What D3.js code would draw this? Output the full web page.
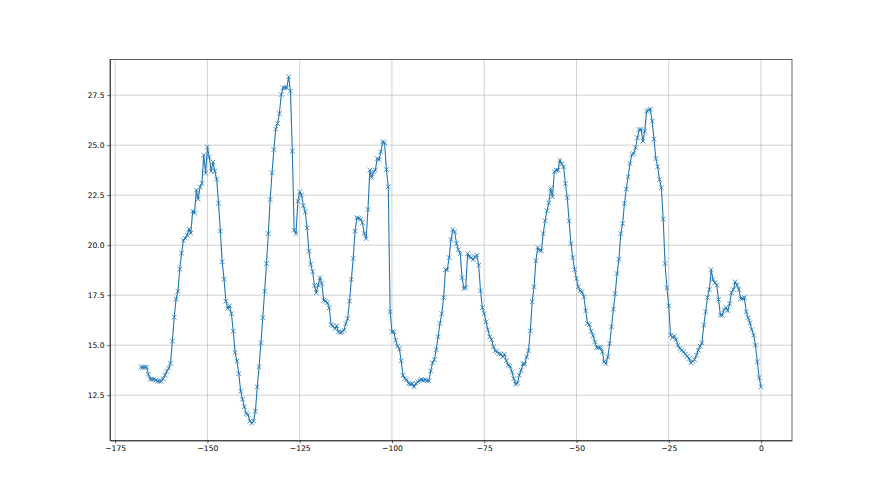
<!DOCTYPE html>
<html>
<head>
<meta charset="utf-8">
<script src="https://cdn.jsdelivr.net/npm/d3@7"></script>
<style>
  body { margin: 0; background: #fff; }
  svg { display: block; }
  .axis text { font-family: "DejaVu Sans", sans-serif; font-size: 7.6px; fill: #000; }
  .axis path, .axis line { stroke: #000; stroke-width: 0.6; }
  .grid line { stroke: #b0b0b0; stroke-width: 0.6; }
</style>
</head>
<body>
<svg width="880" height="495"></svg>
<script>
// readings, every half hour from -168 h to 0 h
const firstHour = -168;
const stepHour = 0.5;

const tempsA = [13.9, 13.9, 13.9, 13.9, 13.55, 13.3, 13.3, 13.3, 13.25, 13.2,
  13.2, 13.2, 13.33, 13.5, 13.7, 13.85, 14.1, 15.2, 16.4, 17.3,
  17.7, 18.8, 19.6, 20.25, 20.35, 20.5, 20.8, 20.6, 21.7, 21.6,
  22.75, 22.3, 22.9, 23.1, 24.5, 23.6];
const tempsB = [24.9, 24.4, 23.7, 24.15, 23.7, 23.3, 22.1, 20.7, 19.17, 18.3,
  17.2, 16.83, 16.97, 16.58, 15.7, 14.63, 14.2, 13.58, 12.7, 12.3,
  11.92, 11.58, 11.53, 11.2, 11.1, 11.2, 11.7, 12.92, 13.92, 15.12,
  16.38, 17.7, 19.08, 20.58, 22.28, 23.62, 24.78, 25.8, 26.08, 26.58,
  27.53, 27.87, 27.87, 27.87, 28.42];
const tempsC = [27.7, 24.7, 20.75, 20.58, 22.2, 22.67, 22.5, 21.97, 21.67, 20.87,
  19.7, 19.05, 18.67, 17.97, 17.62, 18.0, 18.38, 18.08, 17.25, 17.2,
  17.13, 16.87, 16.03, 15.97, 15.83, 15.97, 15.67, 15.63, 15.67, 15.75,
  16.08, 16.33, 17.2, 18.28, 19.33, 20.7, 21.37];
const tempsD = [21.35, 21.3, 21.12, 20.58, 20.33, 21.78, 23.75, 23.38, 23.67, 23.75,
  24.33, 24.28, 24.67, 25.17, 25.12, 23.78, 22.92, 16.67, 15.67, 15.67,
  15.25, 14.95, 14.83, 14.22, 13.5, 13.33, 13.28, 13.08, 13.05, 13.08,
  12.92, 13.08, 13.17, 13.25, 13.28, 13.25, 13.28, 13.22, 13.22, 13.72];
const tempsE = [14.12, 14.28, 14.78, 15.42, 16.08, 16.58, 17.38, 18.78, 18.78, 19.38,
  20.28, 20.78, 20.67, 20.08, 19.78, 19.58, 18.38, 17.83, 17.88, 19.58,
  19.42, 19.38, 19.28, 19.42, 19.5, 19.0, 17.72, 16.88, 16.58, 16.17,
  15.78, 15.42, 15.28, 14.92, 14.72, 14.67, 14.58, 14.55, 14.42, 14.55,
  14.22, 14.0, 13.95, 13.67, 13.33, 13.05, 13.1];
const tempsF = [13.5, 13.75, 14.08, 14.05, 14.42, 14.72, 15.72, 17.17, 17.92, 19.22,
  19.88, 19.75, 19.72, 20.58, 21.22, 21.72, 22.12, 22.83, 22.42, 23.67,
  23.75, 23.75, 24.25, 24.05, 23.92, 23.08, 22.38, 21.2, 20.08, 19.38,
  18.78, 18.33, 17.92, 17.72, 17.67, 17.42, 16.72, 16.08, 16.03, 15.7];
const tempsG = [15.47, 15.17, 14.88, 14.88, 14.88, 14.67, 14.17, 14.08, 14.42, 15.08,
  15.92, 16.8, 17.58, 18.58, 19.3, 20.58, 21.08, 22.08, 22.8, 23.42,
  24.08, 24.53, 24.58, 24.87, 25.37, 25.78, 25.78, 25.2, 25.7, 26.7,
  26.75, 26.8, 26.2, 25.3, 24.33, 23.92, 23.28, 22.87, 21.3, 19.08,
  17.87, 16.97];
const tempsH = [15.5, 15.38, 15.45, 15.28, 15.0, 14.83, 14.75, 14.67, 14.55, 14.45,
  14.33, 14.12, 14.2, 14.28, 14.5, 14.75, 14.95, 15.12, 16.0, 16.67,
  17.38, 17.78, 18.78, 18.28, 18.12, 18.0, 17.28, 16.5, 16.5, 16.78,
  16.88, 16.72, 17.08, 17.62, 17.78, 18.17, 18.0, 17.78, 17.33, 17.33,
  17.38, 16.67, 16.38, 16.12, 15.78, 15.5, 15.0, 14.17, 13.38, 12.92];

const xTicks = [-175, -150, -125, -100, -75, -50, -25, 0];
const yTicks = [12.5, 15.0, 17.5, 20.0, 22.5, 25.0, 27.5];

const temps = [].concat(tempsA, tempsB, tempsC, tempsD, tempsE, tempsF, tempsG, tempsH);
const data = temps.map((v, i) => ({ hour: firstHour + i * stepHour, value: v }));

const svg = d3.select("svg"),
  margin = { top: 59.4, right: 88, bottom: 54.45, left: 110 },
  width = +svg.attr("width") - margin.left - margin.right,
  height = +svg.attr("height") - margin.top - margin.bottom;

// matplotlib style 5% padding around the data
const xExt = d3.extent(data, d => d.hour);
const yExt = d3.extent(data, d => d.value);
const xPad = (xExt[1] - xExt[0]) * 0.05;
const yPad = (yExt[1] - yExt[0]) * 0.05;

const x = d3.scaleLinear().domain([xExt[0] - xPad, xExt[1] + xPad]).range([0, width]);
const y = d3.scaleLinear().domain([yExt[0] - yPad, yExt[1] + yPad]).range([height, 0]);

const g = svg.append("g")
  .attr("transform", "translate(" + margin.left + "," + margin.top + ")");

// grid
g.append("g").attr("class", "grid")
  .selectAll("line").data(xTicks).enter().append("line")
  .attr("x1", d => x(d)).attr("x2", d => x(d))
  .attr("y1", 0).attr("y2", height);
g.append("g").attr("class", "grid")
  .selectAll("line").data(yTicks).enter().append("line")
  .attr("y1", d => y(d)).attr("y2", d => y(d))
  .attr("x1", 0).attr("x2", width);

const minus = s => s.replace("-", "\u2212");

g.append("g")
  .attr("class", "axis")
  .attr("transform", "translate(0," + height + ")")
  .call(d3.axisBottom(x).tickValues(xTicks).tickSize(2.7).tickPadding(2.7)
    .tickSizeOuter(0).tickFormat(d => minus(d3.format("d")(d))));

g.append("g")
  .attr("class", "axis")
  .call(d3.axisLeft(y).tickValues(yTicks).tickSize(2.7).tickPadding(2.7)
    .tickSizeOuter(0).tickFormat(d3.format(".1f")));

// frame
g.append("rect")
  .attr("width", width).attr("height", height)
  .attr("fill", "none").attr("stroke", "#000").attr("stroke-width", 0.6);

const line = d3.line()
  .x(d => x(d.hour))
  .y(d => y(d.value));

g.append("path")
  .datum(data)
  .attr("fill", "none")
  .attr("stroke", "#1f77b4")
  .attr("stroke-width", 1.1)
  .attr("stroke-linejoin", "round")
  .attr("d", line);

const m = 2.3;
g.append("g")
  .selectAll("path")
  .data(data)
  .enter()
  .append("path")
  .attr("transform", d => "translate(" + x(d.hour) + "," + y(d.value) + ")")
  .attr("d", "M" + -m + "," + -m + "L" + m + "," + m + "M" + -m + "," + m + "L" + m + "," + -m)
  .attr("stroke", "#1f77b4")
  .attr("stroke-width", 0.8)
  .attr("fill", "none");
</script>
</body>
</html>
